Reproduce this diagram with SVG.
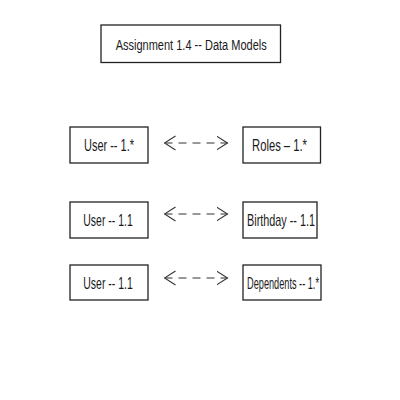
<svg xmlns="http://www.w3.org/2000/svg" width="400" height="400" viewBox="0 0 400 400">
<style>
.box{fill:#fff;stroke:#222;stroke-width:1.3}
.lbl{font-family:"Liberation Sans",Arial,sans-serif;font-size:16px;fill:#1a1a1a;text-anchor:middle}
.ttl{font-size:15.5px}
.con{fill:none;stroke:#333;stroke-width:1.1;stroke-dasharray:8 6}
</style>
<defs>
<marker id="open" viewBox="0 0 12 16" refX="11" refY="8" markerWidth="12" markerHeight="16" markerUnits="userSpaceOnUse" orient="auto-start-reverse">
<path d="M0,1 L11,8 L0,15" fill="none" stroke="#333" stroke-width="1.1"/>
</marker>
</defs>
<rect width="400" height="400" fill="#fff"/>
<g id="title">
<rect class="box" x="101" y="25" width="179.5" height="37.5"/>
<text class="lbl ttl" transform="translate(191.2,49.5) scale(0.71,1)">Assignment 1.4 -- Data Models</text>
</g>
<g id="connectors">
<path class="con" d="M164.5,143 H227.5" marker-start="url(#open)" marker-end="url(#open)"/>
<path class="con" d="M164.5,214 H227.5" marker-start="url(#open)" marker-end="url(#open)"/>
<path class="con" d="M164.5,278 H227.5" marker-start="url(#open)" marker-end="url(#open)"/>
</g>
<g id="user1">
<rect class="box" x="70" y="127" width="78" height="36"/>
<text class="lbl" transform="translate(109,150.8) scale(0.686,1)">User -- 1.*</text>
</g>
<g id="roles">
<rect class="box" x="243" y="127" width="77.5" height="36"/>
<text class="lbl" transform="translate(279.5,150.8) scale(0.702,1)">Roles – 1.*</text>
</g>
<g id="user2">
<rect class="box" x="70" y="202" width="78" height="36"/>
<text class="lbl" transform="translate(108,225.8) scale(0.655,1)">User -- 1.1</text>
</g>
<g id="birthday">
<rect class="box" x="243" y="202" width="74" height="36"/>
<text class="lbl" transform="translate(281,225.8) scale(0.677,1)">Birthday -- 1.1</text>
</g>
<g id="user3">
<rect class="box" x="70" y="265" width="78" height="35"/>
<text class="lbl" transform="translate(108,288.8) scale(0.655,1)">User -- 1.1</text>
</g>
<g id="dependents">
<rect class="box" x="243" y="265" width="78" height="35"/>
<text class="lbl" transform="translate(283,288.8) scale(0.574,1)">Dependents -- 1.*</text>
</g>
</svg>
